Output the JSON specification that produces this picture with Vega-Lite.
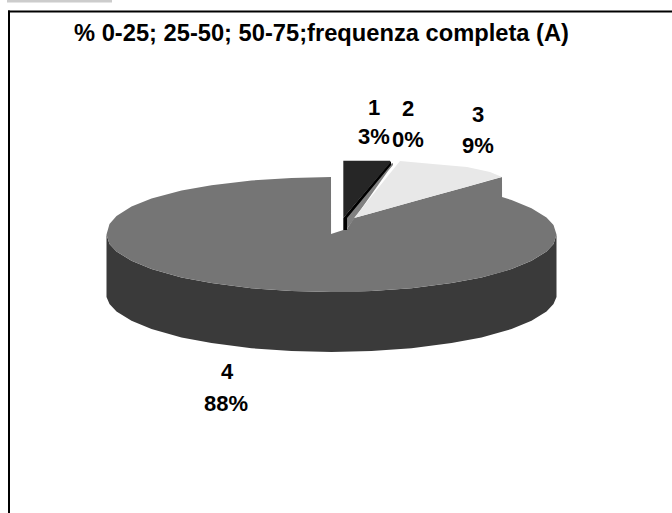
{
"$schema":"https://vega.github.io/schema/vega-lite/v6.json",
"width":672,"height":513,"padding":0,"autosize":{"type":"fit","contains":"padding"},
"background":"white","view":{"stroke":null},
"datasets":{
"frame":[{"x":7,"x2":112,"y":0,"y2":2.5}],
"border":[{"x":8,"x2":672,"y":10.5,"y2":12.5},{"x":8,"x2":10,"y":10.5,"y2":513}],
"side":[
{"x":106.5,"y":234.5,"y2":297},{"x":109.5,"y":243.9,"y2":303.9},{"x":116.5,"y":251.5,"y2":311.5},{"x":131.5,"y":260.8,"y2":320.8},{"x":151.5,"y":269,"y2":329},{"x":181.5,"y":277.4,"y2":337.4},{"x":211.5,"y":283.1,"y2":343.1},{"x":251.5,"y":288.2,"y2":348.2},{"x":291.5,"y":291.1,"y2":351.1},{"x":331.5,"y":292,"y2":352},{"x":371.5,"y":291.1,"y2":351.1},{"x":411.5,"y":288.2,"y2":348.2},{"x":451.5,"y":283.1,"y2":343.1},{"x":481.5,"y":277.4,"y2":337.4},{"x":511.5,"y":269,"y2":329},{"x":531.5,"y":260.8,"y2":320.8},{"x":546.5,"y":251.5,"y2":311.5},{"x":553.5,"y":243.9,"y2":303.9},{"x":556.5,"y":234.5,"y2":297}],
"slice4":[
{"x":106.5,"y":234.5,"y2":234.5},{"x":109.5,"y":224,"y2":243.9},{"x":116.5,"y":216,"y2":251.5},{"x":131.5,"y":206.5,"y2":260.8},{"x":151.5,"y":198.5,"y2":269},{"x":181.5,"y":190.5,"y2":277.4},{"x":211.5,"y":185.2,"y2":283.1},{"x":251.5,"y":180.5,"y2":288.2},{"x":291.5,"y":177.9,"y2":291.1},{"x":331,"y":177,"y2":292},{"x":331.05,"y":234,"y2":292},{"x":343.3,"y":230,"y2":292},{"x":347,"y":229,"y2":292},{"x":354,"y":218,"y2":291.9},{"x":371.5,"y":213.2,"y2":291.1},{"x":411.5,"y":202.1,"y2":288.2},{"x":451.5,"y":191,"y2":283.1},{"x":481.5,"y":182.7,"y2":277.4},{"x":502,"y":177,"y2":272},{"x":502.05,"y":197,"y2":272},{"x":511.5,"y":200,"y2":269},{"x":531.5,"y":208.2,"y2":260.8},{"x":546.5,"y":217.5,"y2":251.5},{"x":553.5,"y":225.1,"y2":243.9},{"x":556.5,"y":234.5,"y2":234.5}],
"slice2":[{"x":346,"y":215,"y2":230},{"x":352,"y":208,"y2":222},{"x":388,"y":165,"y2":171},{"x":393,"y":163,"y2":165}],
"slice1side":[{"x":343.3,"y":218,"y2":230},{"x":347,"y":213.5,"y2":230},{"x":347.05,"y":213.5,"y2":218},{"x":391,"y":161,"y2":165}],
"slice1":[{"x":343.3,"y":160.7,"y2":218},{"x":390,"y":160.7,"y2":163}],
"slice3":[{"x":354,"y":218,"y2":218},{"x":400,"y":161,"y2":205.3},{"x":433,"y":164,"y2":196},{"x":467,"y":167,"y2":186.7},{"x":490,"y":172,"y2":180},{"x":502,"y":177,"y2":177}],
"labels":[
{"x":374,"y":108,"t":"1"},{"x":374,"y":137,"t":"3%"},
{"x":408,"y":109,"t":"2"},{"x":408,"y":140,"t":"0%"},
{"x":478,"y":115,"t":"3"},{"x":478,"y":146,"t":"9%"},
{"x":227,"y":372,"t":"4"},{"x":226,"y":404,"t":"88%"}],
"title":[{"x":321.5,"y":34,"t":"% 0-25; 25-50; 50-75;frequenza completa (A)"}]
},
"encoding":{
"x":{"field":"x","type":"quantitative","axis":null,"scale":{"domain":[0,672],"nice":false,"zero":false}},
"y":{"field":"y","type":"quantitative","axis":null,"scale":{"domain":[513,0],"nice":false,"zero":false}}
},
"layer":[
{"data":{"name":"frame"},"mark":{"type":"rect","color":"#cccccc"},"encoding":{"x2":{"field":"x2"},"y2":{"field":"y2"}}},
{"data":{"name":"border"},"mark":{"type":"rect","color":"#000000"},"encoding":{"x2":{"field":"x2"},"y2":{"field":"y2"}}},
{"data":{"name":"side"},"mark":{"type":"area","fill":"#3a3a3a","opacity":1},"encoding":{"y2":{"field":"y2"}}},
{"data":{"name":"slice4"},"mark":{"type":"area","fill":"#757575","opacity":1},"encoding":{"y2":{"field":"y2"}}},
{"data":{"name":"slice2"},"mark":{"type":"area","fill":"#808080","opacity":1},"encoding":{"y2":{"field":"y2"}}},
{"data":{"name":"slice1side"},"mark":{"type":"area","fill":"#000000","opacity":1},"encoding":{"y2":{"field":"y2"}}},
{"data":{"name":"slice1"},"mark":{"type":"area","fill":"#262626","opacity":1},"encoding":{"y2":{"field":"y2"}}},
{"data":{"name":"slice3"},"mark":{"type":"area","fill":"#e8e8e8","opacity":1},"encoding":{"y2":{"field":"y2"}}},
{"data":{"name":"labels"},"mark":{"type":"text","font":"Liberation Sans","fontWeight":"bold","fontSize":22,"color":"#000000","align":"center","baseline":"middle"},"encoding":{"text":{"field":"t"}}},
{"data":{"name":"title"},"mark":{"type":"text","font":"Liberation Sans","fontWeight":"bold","fontSize":23.7,"color":"#000000","align":"center","baseline":"middle"},"encoding":{"text":{"field":"t"}}}
]
}
